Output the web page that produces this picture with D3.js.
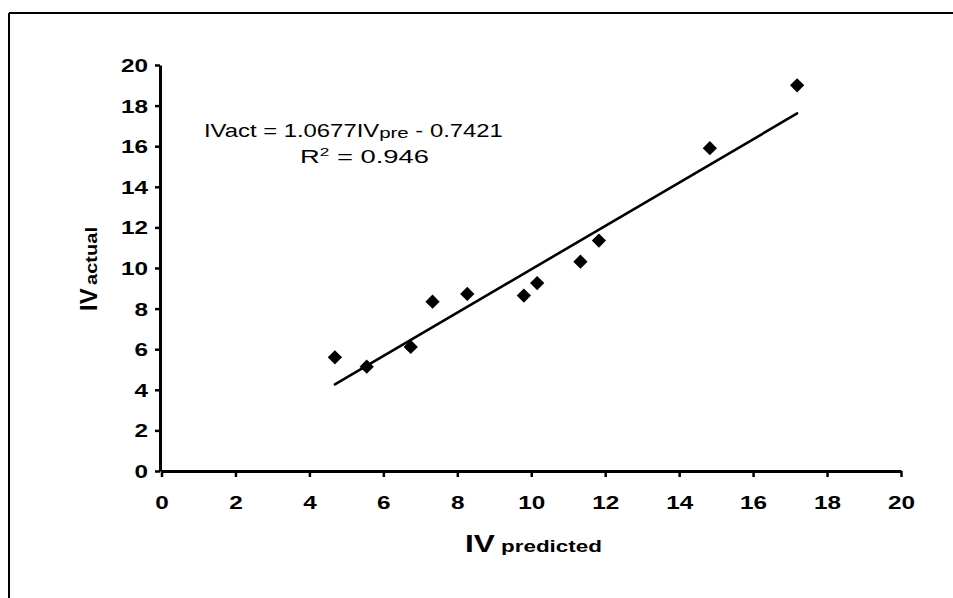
<!DOCTYPE html>
<html>
<head>
<meta charset="utf-8">
<script src="https://cdn.jsdelivr.net/npm/d3@7"></script>
<style>
  html, body { margin: 0; padding: 0; background: #fff; }
  svg { display: block; font-family: "Liberation Sans", Arial, sans-serif; }
</style>
</head>
<body>
<svg id="chart" width="953" height="598"></svg>
<script>
// ---- data ----
const ivPredicted = [4.69, 5.55, 6.74, 7.33, 8.27, 9.80, 10.16, 11.33, 11.83, 14.83, 17.19];
const ivActual    = [5.60, 5.14, 6.11, 8.34, 8.72, 8.64, 9.26, 10.31, 11.35, 15.90, 19.00];
const xTicks = [0, 2, 4, 6, 8, 10, 12, 14, 16, 18, 20];
const yTicks = [0, 2, 4, 6, 8, 10, 12, 14, 16, 18, 20];
const slope = 1.0677;
const intercept = -0.7421;
const rSquared = 0.946;

const svg = d3.select("#chart");
const x = d3.scaleLinear().domain([0, 20]).range([161.5, 901]);
const y = d3.scaleLinear().domain([0, 20]).range([471, 65]);
const SX = 1.35; // horizontal stretch of the scanned text

// frame
svg.append("line").attr("x1", 9).attr("y1", 13).attr("x2", 953).attr("y2", 13)
  .attr("stroke", "#000").attr("stroke-width", 2);
svg.append("line").attr("x1", 9).attr("y1", 13).attr("x2", 9).attr("y2", 598)
  .attr("stroke", "#000").attr("stroke-width", 2);

// axes
const gx = svg.append("g").attr("transform", `translate(0,${y(0)})`)
  .call(d3.axisBottom(x).tickValues(xTicks).tickSize(6).tickSizeOuter(0).tickFormat(d3.format("d")));
const gy = svg.append("g").attr("transform", `translate(${x(0) - 1.5},0)`)
  .call(d3.axisLeft(y).tickValues(yTicks).tickSize(5).tickSizeOuter(0).tickFormat(d3.format("d")));

[gx, gy].forEach(g => {
  g.select(".domain").attr("stroke", "#000").attr("stroke-width", 3);
  g.selectAll(".tick line").attr("stroke", "#000").attr("stroke-width", 2.5);
  g.selectAll(".tick text").attr("fill", "#000")
    .style("font-family", '"Liberation Sans", Arial, sans-serif')
    .style("font-size", "18px").style("font-weight", "bold");
});
gx.selectAll(".tick text")
  .attr("y", null).attr("dy", null)
  .attr("transform", `translate(0,38) scale(${SX},1)`);
gy.selectAll(".tick text")
  .attr("x", null).attr("dy", "0.36em")
  .attr("transform", `translate(-12,0) scale(${SX},1)`);

// trend line
const xMin = d3.min(ivPredicted), xMax = d3.max(ivPredicted);
const trend = [xMin, xMax].map(v => [v, slope * v + intercept]);
svg.append("path")
  .attr("d", d3.line().x(d => x(d[0])).y(d => y(d[1]))(trend))
  .attr("stroke", "#000").attr("stroke-width", 2.6).attr("fill", "none")
  .attr("stroke-linecap", "round");

// points
const pts = ivPredicted.map((v, i) => [v, ivActual[i]]);
svg.append("g").selectAll("path").data(pts).join("path")
  .attr("transform", d => `translate(${x(d[0])},${y(d[1])})`)
  .attr("d", d3.symbol(d3.symbolDiamond2, 130)())
  .attr("fill", "#000");

// helper: stretch text horizontally to a target width
function fit(t, x0, yb, target) {
  t.attr("transform", `translate(${x0},${yb})`);
  const w = t.node().getComputedTextLength();
  t.attr("transform", `translate(${x0},${yb}) scale(${target / w},1)`);
}

// equation
const eq = svg.append("text").attr("fill", "#000").style("font-size", "17.5px");
eq.append("tspan").text("IVact = " + slope.toFixed(4) + "IV");
eq.append("tspan").style("font-size", "15px").attr("dy", 1).text("pre");
eq.append("tspan").attr("dy", -1).text(" - " + Math.abs(intercept).toFixed(4));
fit(eq, 204, 137, 299);

const r2 = svg.append("text").attr("fill", "#000").style("font-size", "17.5px");
r2.append("tspan").text("R");
r2.append("tspan").style("font-size", "11px").attr("dy", -7).text("2");
r2.append("tspan").attr("dy", 7).text(" = " + rSquared.toFixed(3));
fit(r2, 300, 163, 129);

// x axis title
const xt = svg.append("text").attr("fill", "#000").style("font-weight", "bold");
xt.append("tspan").style("font-size", "24px").text("IV");
xt.append("tspan").style("font-size", "17px").text(" predicted");
fit(xt, 465, 552, 137);

// y axis title (rotated)
const yt = svg.append("g").attr("transform", "translate(97,311) rotate(-90)");
yt.append("text").attr("fill", "#000").style("font-weight", "bold")
  .style("font-size", "24px").attr("x", 0).attr("y", 0).text("IV");
yt.append("text").attr("fill", "#000").style("font-weight", "bold")
  .style("font-size", "16px").attr("x", 26).attr("y", 0)
  .attr("textLength", 58).attr("lengthAdjust", "spacingAndGlyphs").text("actual");
</script>
</body>
</html>
